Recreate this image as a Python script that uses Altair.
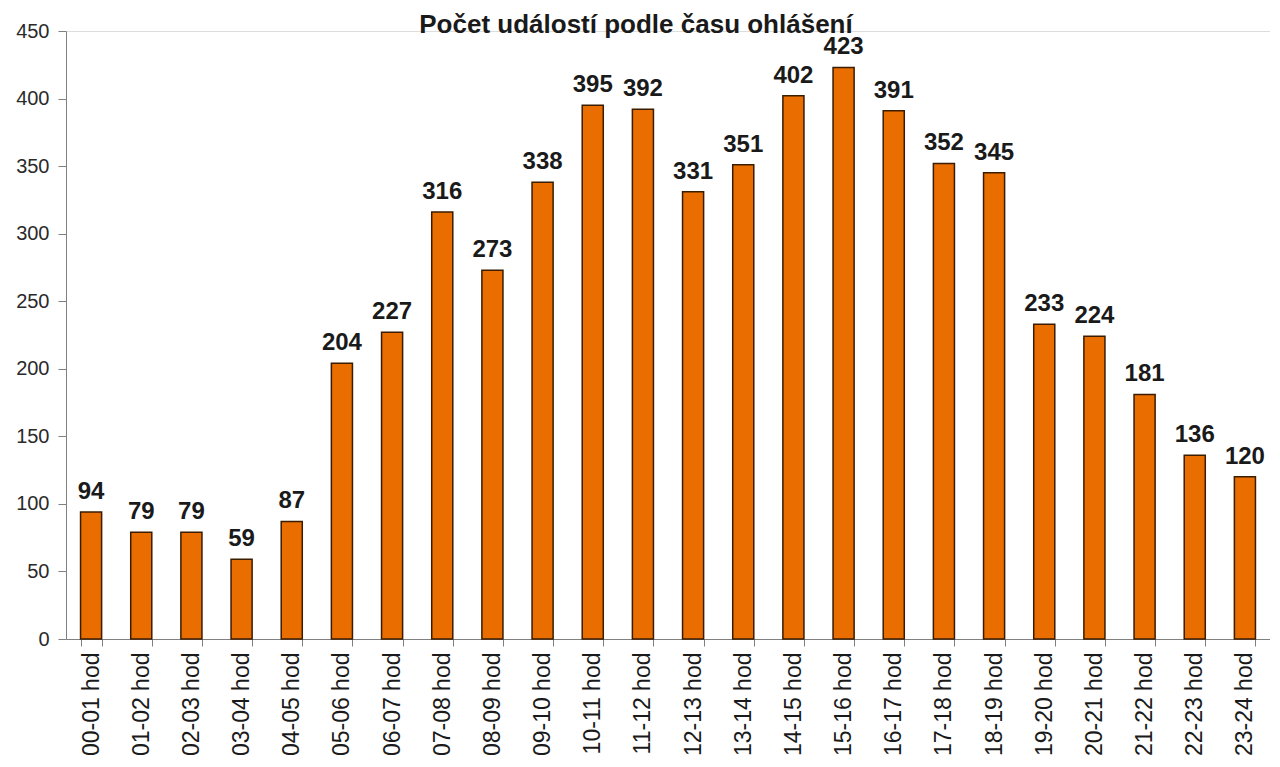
import altair as alt
import pandas as pd

hours = ["00-01 hod", "01-02 hod", "02-03 hod", "03-04 hod", "04-05 hod", "05-06 hod",
         "06-07 hod", "07-08 hod", "08-09 hod", "09-10 hod", "10-11 hod", "11-12 hod",
         "12-13 hod", "13-14 hod", "14-15 hod", "15-16 hod", "16-17 hod", "17-18 hod",
         "18-19 hod", "19-20 hod", "20-21 hod", "21-22 hod", "22-23 hod", "23-24 hod"]
counts = [94, 79, 79, 59, 87, 204, 227, 316, 273, 338, 395, 392,
          331, 351, 402, 423, 391, 352, 345, 233, 224, 181, 136, 120]
y_ticks = [0, 50, 100, 150, 200, 250, 300, 350, 400, 450]
title_text = ["Počet událostí podle času ohlášení"]

df = pd.DataFrame({"hod": hours, "pocet": counts})
title_df = pd.DataFrame({"t": title_text})

font = "Liberation Sans"

x_enc = alt.X("hod:N", sort=hours, title=None,
              scale=alt.Scale(paddingInner=0.58, paddingOuter=0.29),
              axis=alt.Axis(labelAngle=-90, labelFontSize=23, labelFont=font,
                            labelColor="#1a1a1a", labelPadding=6,
                            tickBand="extent", tickSize=7, tickColor="#808080",
                            domainColor="#808080", labelAlign="right",
                            labelBaseline="middle"))
y_enc = alt.Y("pocet:Q", title=None,
              scale=alt.Scale(domain=[0, 450], nice=False),
              axis=alt.Axis(values=y_ticks, grid=False, labelFontSize=20,
                            labelFont=font, labelColor="#2a2a2a", tickSize=8,
                            labelPadding=9, tickColor="#808080",
                            domainColor="#808080"))

bars = alt.Chart(df).mark_bar(color="#EA6D00", stroke="#3a1c00",
                              strokeWidth=1.5).encode(x=x_enc, y=y_enc)

labels = alt.Chart(df).mark_text(font=font, fontSize=24, fontWeight="bold",
                                 color="#1a1a1a", baseline="alphabetic",
                                 dy=-13).encode(
    x=alt.X("hod:N", sort=hours),
    y=alt.Y("pocet:Q"),
    text=alt.Text("pocet:Q"))

title = alt.Chart(title_df).mark_text(font=font, fontSize=26, fontWeight="bold",
                                      color="#1a1a1a", baseline="alphabetic",
                                      align="center").encode(
    x=alt.value(570), y=alt.value(2), text="t:N")

chart = alt.layer(bars, labels, title).properties(
    width=1204, height=608,
    autosize=alt.AutoSizeParams(type="none"),
    padding={"left": 58, "top": 23, "right": 0, "bottom": 120},
).configure_view(strokeWidth=0, stroke="transparent").configure(background="white")

chart.save("out.html", embed_options={"renderer": "svg", "actions": False})
